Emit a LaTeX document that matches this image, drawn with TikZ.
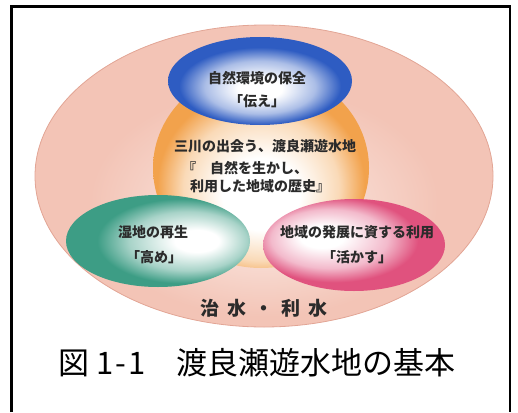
\documentclass[tikz,border=0pt]{standalone}
\usepackage{fontspec}
\setmainfont{Noto Sans CJK JP}
\usetikzlibrary{shapes.geometric}

\definecolor{ringpink}{HTML}{F3C4B6}
\definecolor{ringcore}{HTML}{F8DCD3}
\definecolor{ringline}{HTML}{E2A595}
\definecolor{denblue}{HTML}{2E5CC2}
\definecolor{denorange}{HTML}{F2A24C}
\definecolor{dengreen}{HTML}{3D9D85}
\definecolor{denpink}{HTML}{E0527E}
\definecolor{inktext}{HTML}{2B2B2B}

% shadings: white core, coloured rim (path edge sits at 25bp)
\pgfdeclareradialshading{ringshade}{\pgfpoint{0bp}{-7bp}}{color(0bp)=(ringcore); color(8bp)=(ringcore); color(19bp)=(ringpink); color(50bp)=(ringpink)}
\pgfdeclareradialshading{blueshade}{\pgfpoint{0bp}{-5bp}}{color(0bp)=(white); color(6bp)=(white); color(15bp)=(denblue!40!white); color(22bp)=(denblue); color(50bp)=(denblue)}
\pgfdeclareradialshading{orangeshade}{\pgfpoint{0bp}{-8bp}}{color(0bp)=(white); color(9bp)=(white); color(18bp)=(denorange!40!white); color(24bp)=(denorange); color(50bp)=(denorange)}
\pgfdeclareradialshading{greenshade}{\pgfpoint{12bp}{0bp}}{color(0bp)=(white); color(6bp)=(white); color(16bp)=(dengreen!45!white); color(23bp)=(dengreen); color(50bp)=(dengreen)}
\pgfdeclareradialshading{pinkshade}{\pgfpoint{-10bp}{5bp}}{color(0bp)=(white); color(6bp)=(white); color(16bp)=(denpink!40!white); color(23bp)=(denpink); color(50bp)=(denpink)}

\begin{document}
\begin{tikzpicture}[x=1pt, y=-1pt,
    blob/.style={ellipse, inner sep=0pt},
    txt/.style={inner sep=0pt, text=inktext, font=\bfseries\fontsize{14pt}{16pt}\selectfont},
    basetxt/.style={inner sep=0pt, text=inktext, font=\bfseries\fontsize{19pt}{21pt}\selectfont},
    captxt/.style={inner sep=0pt, text=black, font=\fontsize{31pt}{33pt}\selectfont}]
    \useasboundingbox (0,0) rectangle (518,412);

    % Frame
    \draw[line width=2.6pt] (11.5,412) -- (11.5,6.5) -- (510,6.5) -- (510,412);

    % Draw the big ring and the inner ellipses
    \node[blob, shading=ringshade, draw=ringline, line width=0.8pt,
          minimum width=458pt, minimum height=302pt] (ring) at (264,176) {};
    \node[blob, shading=orangeshade, minimum width=216pt, minimum height=200pt] (history) at (261,168) {};
    \node[blob, shading=blueshade, minimum width=184pt, minimum height=88pt] (nature) at (260,81) {};
    \node[blob, shading=greenshade, minimum width=184pt, minimum height=92pt] (wetland) at (158,241) {};
    \node[blob, shading=pinkshade, minimum width=182pt, minimum height=92pt] (region) at (354,245) {};

    % Labels
    \node[txt] (natureA) at (257,78) {自然環境の保全};
    \node[txt] (natureB) at (257,101) {「伝え」};

    \node[txt] (historyA) at (265,146) {三川の出会う、渡良瀬遊水地};
    \node[txt, anchor=west] (historyB) at (182,168) {『　自然を生かし、};
    \node[txt, anchor=west] (historyC) at (190,186) {利用した地域の歴史』};

    \node[txt] (wetlandA) at (153,232) {湿地の再生};
    \node[txt] (wetlandB) at (154,257) {「高め」};

    \node[txt] (regionA) at (357,232) {地域の発展に資する利用};
    \node[txt] (regionB) at (357,257) {「活かす」};

    \node[basetxt] (base) at (264,308) {治\hspace{8pt}水\hspace{8pt}・\hspace{8pt}利\hspace{8pt}水};

    % Caption
    \node[captxt, anchor=west] (caption) at (58,363) {図 1\kern2pt-\kern2pt1　渡良瀬遊水地の基本};
\end{tikzpicture}
\end{document}
